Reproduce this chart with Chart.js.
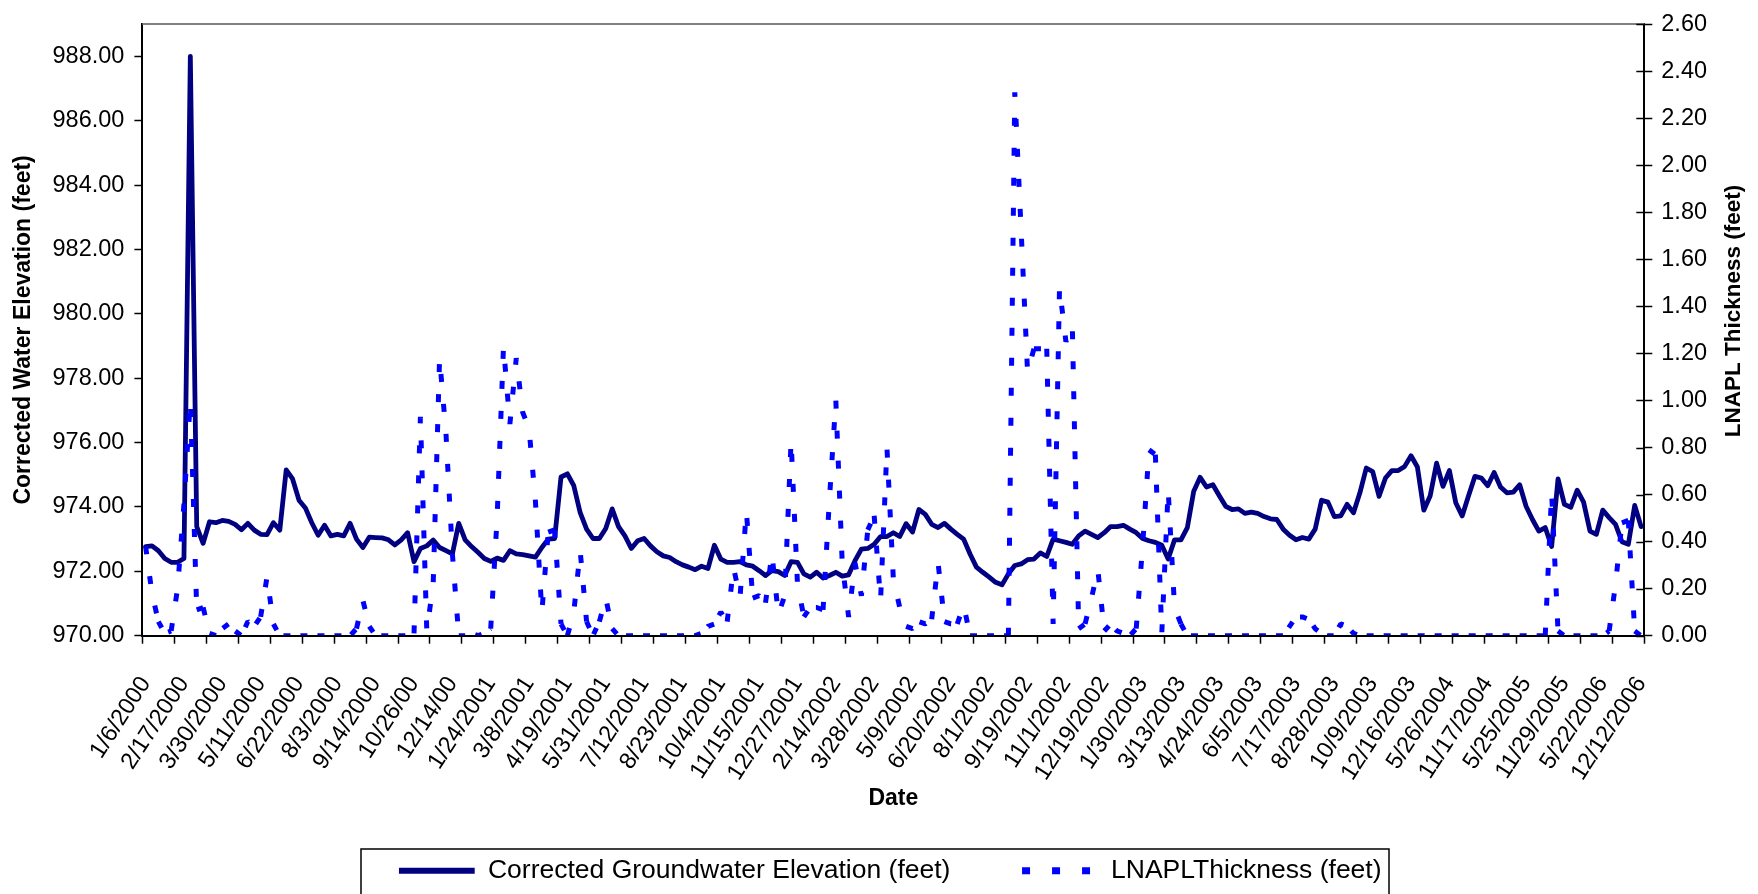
<!DOCTYPE html>
<html>
<head>
<meta charset="utf-8">
<script src="https://cdn.jsdelivr.net/npm/chart.js@4.4.1/dist/chart.umd.min.js"></script>
<style>
html,body{margin:0;padding:0;background:#ffffff;}
#wrap{position:relative;width:1758px;height:894px;overflow:hidden;}
canvas{display:block;}
</style>
</head>
<body>
<div id="wrap"><canvas id="c" width="1758" height="894"></canvas></div>
<script>
// ---------- DATA ----------
const categories = [
"1/6/2000","1/13/2000","1/20/2000","1/27/2000","2/3/2000","2/10/2000",
"2/17/2000","2/24/2000","3/2/2000","3/9/2000","3/16/2000","3/23/2000",
"3/30/2000","4/6/2000","4/13/2000","4/20/2000","4/27/2000","5/4/2000",
"5/11/2000","5/18/2000","5/25/2000","6/1/2000","6/8/2000","6/15/2000",
"6/22/2000","6/29/2000","7/6/2000","7/13/2000","7/20/2000","7/27/2000",
"8/3/2000","8/10/2000","8/17/2000","8/24/2000","8/31/2000","9/7/2000",
"9/14/2000","9/21/2000","9/28/2000","10/5/2000","10/12/2000","10/19/2000",
"10/26/00","11/2/00","11/9/00","11/16/00","11/30/00","12/7/00",
"12/14/00","12/20/00","12/28/00","1/4/2001","1/11/2001","1/18/2001",
"1/24/2001","1/31/2001","2/8/2001","2/15/2001","2/22/2001","3/1/2001",
"3/8/2001","3/15/2001","3/22/2001","3/29/2001","4/5/2001","4/12/2001",
"4/19/2001","4/26/2001","5/3/2001","5/10/2001","5/17/2001","5/24/2001",
"5/31/2001","6/7/2001","6/14/2001","6/21/2001","6/28/2001","7/5/2001",
"7/12/2001","7/19/2001","7/26/2001","8/2/2001","8/9/2001","8/16/2001",
"8/23/2001","8/30/2001","9/6/2001","9/13/2001","9/20/2001","9/27/2001",
"10/4/2001","10/11/2001","10/18/2001","10/25/2001","11/1/2001","11/8/2001",
"11/15/2001","11/21/2001","11/29/2001","12/6/2001","12/13/2001","12/20/2001",
"12/27/2001","1/3/2002","1/10/2002","1/17/2002","1/24/2002","2/7/2002",
"2/14/2002","2/21/2002","2/28/2002","3/7/2002","3/14/2002","3/21/2002",
"3/28/2002","4/4/2002","4/11/2002","4/18/2002","4/25/2002","5/2/2002",
"5/9/2002","5/16/2002","5/23/2002","5/30/2002","6/6/2002","6/13/2002",
"6/20/2002","6/27/2002","7/3/2002","7/11/2002","7/18/2002","7/25/2002",
"8/1/2002","8/8/2002","8/15/2002","8/22/2002","9/5/2002","9/12/2002",
"9/19/2002","9/26/2002","10/3/2002","10/10/2002","10/17/2002","10/24/2002",
"11/1/2002","11/7/2002","11/14/2002","11/21/2002","12/5/2002","12/12/2002",
"12/19/2002","12/26/2002","1/2/2003","1/9/2003","1/16/2003","1/23/2003",
"1/30/2003","2/6/2003","2/13/2003","2/20/2003","2/27/2003","3/6/2003",
"3/13/2003","3/20/2003","3/27/2003","4/3/2003","4/10/2003","4/17/2003",
"4/24/2003","5/1/2003","5/8/2003","5/15/2003","5/22/2003","5/29/2003",
"6/5/2003","6/12/2003","6/19/2003","6/26/2003","7/3/2003","7/10/2003",
"7/17/2003","7/24/2003","7/31/2003","8/7/2003","8/14/2003","8/21/2003",
"8/28/2003","9/4/2003","9/11/2003","9/18/2003","9/25/2003","10/2/2003",
"10/9/2003","10/23/2003","11/6/2003","11/20/2003","12/4/2003","12/11/2003",
"12/16/2003","1/20/2004","2/17/2004","3/16/2004","4/13/2004","4/27/2004",
"5/26/2004","6/23/2004","7/21/2004","8/18/2004","9/15/2004","10/20/2004",
"11/17/2004","12/15/2004","1/19/2005","2/16/2005","3/16/2005","4/20/2005",
"5/25/2005","6/22/2005","7/20/2005","8/17/2005","9/21/2005","10/26/2005",
"11/29/2005","12/20/2005","1/24/2006","2/21/2006","3/21/2006","4/25/2006",
"5/22/2006","6/20/2006","7/25/2006","8/22/2006","9/26/2006","10/24/2006",
"12/12/2006"
];

const groundwaterElevation = [
972.77,972.79,972.64,972.40,972.28,972.28,972.40,988.00,973.39,972.87,
973.54,973.51,973.58,973.55,973.46,973.29,973.49,973.28,973.15,973.14,
973.51,973.28,975.15,974.87,974.21,973.97,973.51,973.12,973.43,973.10,
973.15,973.10,973.49,973.00,972.74,973.06,973.05,973.04,972.98,972.82,
972.98,973.20,972.30,972.71,972.79,972.97,972.74,972.64,972.54,973.49,
972.98,972.77,972.59,972.40,972.31,972.41,972.34,972.64,972.54,972.52,
972.48,972.44,972.74,973.00,973.02,974.93,975.03,974.66,973.82,973.31,
973.02,973.02,973.33,973.94,973.39,973.10,972.71,972.95,973.02,972.79,
972.61,972.48,972.43,972.30,972.20,972.13,972.05,972.16,972.09,972.81,
972.38,972.28,972.28,972.30,972.20,972.16,972.02,971.87,972.02,971.99,
971.87,972.30,972.28,971.92,971.82,971.97,971.79,971.87,971.97,971.85,
971.89,972.33,972.69,972.71,972.84,973.08,973.08,973.20,973.08,973.48,
973.22,973.92,973.77,973.46,973.36,973.49,973.31,973.15,973.00,972.54,
972.13,971.97,971.82,971.66,971.58,971.92,972.18,972.23,972.36,972.38,
972.57,972.46,973.00,972.95,972.90,972.84,973.10,973.25,973.15,973.05,
973.20,973.39,973.39,973.43,973.31,973.20,973.02,972.95,972.90,972.81,
972.38,972.98,972.98,973.36,974.49,974.92,974.62,974.69,974.35,974.02,
973.92,973.94,973.80,973.84,973.80,973.70,973.63,973.61,973.31,973.12,
972.98,973.05,973.00,973.31,974.21,974.15,973.70,973.72,974.08,973.82,
974.44,975.21,975.10,974.33,974.90,975.13,975.13,975.26,975.59,975.24,
973.90,974.35,975.36,974.64,975.13,974.13,973.72,974.35,974.95,974.90,
974.66,975.07,974.62,974.44,974.46,974.69,974.02,973.61,973.25,973.36,
972.77,974.87,974.08,973.99,974.52,974.15,973.25,973.15,973.90,973.67,
973.46,972.92,972.84,974.05,973.39
];

const lnaplThickness = [
0.38,0.18,0.06,0.01,0.02,0.20,0.56,1.00,0.11,0.12,
0.01,0.00,0.03,0.05,0.02,0.00,0.06,0.04,0.08,0.25,
0.05,0.00,0.00,0.00,0.00,0.00,0.00,0.00,0.00,0.00,
0.00,0.00,0.00,0.03,0.15,0.04,0.00,0.00,0.00,0.00,
0.00,0.00,0.01,0.93,0.02,0.22,1.18,0.86,0.35,0.00,
0.00,0.01,0.00,0.01,0.03,0.50,1.23,0.90,1.18,0.95,
0.88,0.57,0.10,0.44,0.45,0.05,0.00,0.10,0.36,0.06,
0.00,0.06,0.16,0.03,0.00,0.00,0.00,0.00,0.00,0.00,
0.00,0.00,0.00,0.00,0.00,0.00,0.00,0.01,0.04,0.05,
0.10,0.06,0.29,0.16,0.53,0.16,0.17,0.14,0.35,0.09,
0.17,0.83,0.22,0.08,0.12,0.12,0.11,0.58,1.00,0.31,
0.08,0.31,0.17,0.45,0.51,0.15,0.80,0.24,0.12,0.04,
0.03,0.06,0.05,0.07,0.31,0.06,0.05,0.05,0.13,0.00,
0.00,0.00,0.00,0.00,0.00,0.00,2.31,1.72,1.12,1.22,
1.22,1.22,0.05,1.48,1.25,1.32,0.03,0.05,0.16,0.28,
0.02,0.05,0.02,0.01,0.00,0.03,0.38,0.79,0.77,0.01,
0.62,0.12,0.05,0.00,0.00,0.00,0.00,0.00,0.00,0.00,
0.00,0.00,0.00,0.00,0.00,0.00,0.00,0.00,0.00,0.04,
0.08,0.08,0.07,0.03,0.01,0.00,0.00,0.05,0.04,0.01,
0.00,0.00,0.00,0.00,0.00,0.00,0.00,0.00,0.00,0.00,
0.00,0.00,0.00,0.00,0.00,0.00,0.00,0.00,0.00,0.00,
0.00,0.00,0.00,0.00,0.00,0.00,0.00,0.00,0.00,0.00,
0.61,0.02,0.00,0.00,0.00,0.00,0.00,0.00,0.00,0.02,
0.22,0.48,0.49,0.02,0.00
];

const leftAxisTicks  = [970, 972, 974, 976, 978, 980, 982, 984, 986, 988];
const rightAxisTicks = [0, 0.2, 0.4, 0.6, 0.8, 1.0, 1.2, 1.4, 1.6, 1.8, 2.0, 2.2, 2.4, 2.6];
const seriesNames = ['Corrected Groundwater Elevation (feet)', 'LNAPLThickness (feet)'];
const axisTitles = { x: 'Date', left: 'Corrected Water Elevation (feet)', right: 'LNAPL Thickness (feet)' };
const labelEvery = 6;   // a date label on every 6th category
const tickEvery = 5;    // a tick mark on every 5th category boundary

// ---------- CHART ----------
const FONT = "'Liberation Sans', Arial, Helvetica, sans-serif";
Chart.defaults.font.family = FONT;
Chart.defaults.color = '#000000';

const steep = c => Math.abs(c.p1.y - c.p0.y) > 2.5 * Math.abs(c.p1.x - c.p0.x);

const framePlugin = {
  id: 'frame',
  afterDraw(chart, args, opts) {
    const { ctx, chartArea: a, scales } = chart;
    ctx.save();
    ctx.strokeStyle = '#808080';
    ctx.lineWidth = 2;
    ctx.beginPath();
    ctx.moveTo(a.left, a.top);
    ctx.lineTo(a.right, a.top);
    ctx.stroke();
    ctx.strokeStyle = '#000000';
    ctx.lineWidth = 1.5;
    scales.y1.ticks.forEach(t => {
      const yy = Math.round(scales.y1.getPixelForValue(t.value)) + 0.5;
      ctx.beginPath();
      ctx.moveTo(a.right - 8, yy);
      ctx.lineTo(a.right, yy);
      ctx.stroke();
    });
    ctx.fillStyle = '#000000';
    ctx.font = 'bold ' + opts.rightTitleSize + 'px ' + FONT;
    ctx.textAlign = 'center';
    ctx.textBaseline = 'middle';
    ctx.translate(opts.rightTitleX, opts.rightTitleY);
    ctx.rotate(-Math.PI / 2);
    ctx.fillText(axisTitles.right, 0, 0);
    ctx.restore();
    ctx.save();
    ctx.strokeStyle = '#000000';
    ctx.lineWidth = 1.5;
    ctx.strokeRect(opts.legendBox[0], opts.legendBox[1], opts.legendBox[2], opts.legendBox[3]);
    ctx.restore();
  }
};

const chart = new Chart(document.getElementById('c').getContext('2d'), {
  type: 'line',
  data: {
    labels: categories,
    datasets: [
      {
        label: seriesNames[0],
        data: groundwaterElevation,
        yAxisID: 'y',
        borderColor: '#000080',
        backgroundColor: '#000080',
        borderWidth: 4.8,
        borderJoinStyle: 'round',
        borderCapStyle: 'round',
        pointRadius: 0,
        pointHoverRadius: 0,
        tension: 0,
        fill: false,
        order: 1
      },
      {
        label: seriesNames[1],
        data: lnaplThickness,
        yAxisID: 'y1',
        borderColor: '#0000FF',
        backgroundColor: '#0000FF',
        borderWidth: 5,
        borderDash: [7, 10],
        borderCapStyle: 'butt',
        borderJoinStyle: 'bevel',
        pointRadius: 0,
        pointHoverRadius: 0,
        tension: 0,
        fill: false,
        order: 0,
        segment: {
          borderDash: c => steep(c) ? [8, 22] : [7, 10]
        }
      }
    ]
  },
  options: {
    responsive: false,
    animation: false,
    devicePixelRatio: 1,
    events: [],
    layout: { padding: { top: 19, left: 22.5, right: 0, bottom: 0 } },
    plugins: {
      tooltip: { enabled: false },
      frame: {
        rightTitleX: 1734, rightTitleY: 311, rightTitleSize: 22.5,
        legendBox: [361, 849, 1028, 80]
      },
      legend: {
        display: true,
        position: 'bottom',
        align: 'center',
        labels: {
          sort: (a, b) => a.datasetIndex - b.datasetIndex,
          usePointStyle: true,
          pointStyle: 'line',
          pointStyleWidth: 75.75,
          padding: 71.6,
          color: '#000000',
          font: { family: FONT, size: 26.5 },
          generateLabels: (ch) => {
            const items = Chart.defaults.plugins.legend.labels.generateLabels(ch);
            items.forEach(it => {
              if (it.datasetIndex === 0) {
                it.lineWidth = 6; it.lineDash = []; it.lineCap = 'butt';
              } else {
                it.lineWidth = 7; it.lineDash = [8, 22]; it.lineCap = 'butt';
              }
              it.pointStyle = 'line';
            });
            return items;
          }
        }
      }
    },
    scales: {
      x: {
        type: 'category',
        offset: true,
        afterFit: s => { s.height = 150.2; },
        grid: {
          display: true,
          offset: true,
          drawOnChartArea: false,
          drawTicks: true,
          tickLength: 8,
          tickWidth: 1.5,
          tickColor: c => (c.index === undefined || c.index % tickEvery === 0) ? '#000000' : 'rgba(0,0,0,0)'
        },
        border: { display: true, color: '#000000', width: 2, z: 1 },
        ticks: {
          autoSkip: false,
          minRotation: 57,
          maxRotation: 57,
          padding: 28,
          color: '#000000',
          font: { family: FONT, size: 23.5 },
          callback: (v, i) => (i % labelEvery === 0 ? categories[i] : '')
        },
        title: {
          display: true,
          text: axisTitles.x,
          color: '#000000',
          font: { family: FONT, size: 23, weight: 'bold' },
          padding: { top: 0, bottom: -26.9 }
        }
      },
      y: {
        position: 'left',
        min: 970,
        max: 989,
        afterFit: s => { s.width = 119.9; },
        afterBuildTicks: ax => { ax.ticks = leftAxisTicks.map(v => ({ value: v })); },
        grid: { drawOnChartArea: false, drawTicks: true, tickLength: 8, tickWidth: 1.5, tickColor: '#000000' },
        border: { display: true, color: '#000000', width: 2 },
        ticks: {
          padding: 10,
          color: '#000000',
          font: { family: FONT, size: 23.5 },
          callback: v => Number(v).toFixed(2)
        },
        title: {
          display: true,
          text: axisTitles.left,
          color: '#000000',
          font: { family: FONT, size: 23, weight: 'bold' },
          padding: { top: -12.6, bottom: 0 }
        }
      },
      y1: {
        position: 'right',
        min: 0,
        max: 2.6,
        afterFit: s => { s.width = 113.7; },
        afterBuildTicks: ax => { ax.ticks = rightAxisTicks.map(v => ({ value: v })); },
        grid: { drawOnChartArea: false, drawTicks: true, tickLength: 8, tickWidth: 1.5, tickColor: '#000000' },
        border: { display: true, color: '#000000', width: 2 },
        ticks: {
          padding: 9,
          color: '#000000',
          font: { family: FONT, size: 23.5 },
          callback: v => Number(v).toFixed(2)
        },
        title: { display: false }
      }
    }
  },
  plugins: [framePlugin]
});
</script>
</body>
</html>
